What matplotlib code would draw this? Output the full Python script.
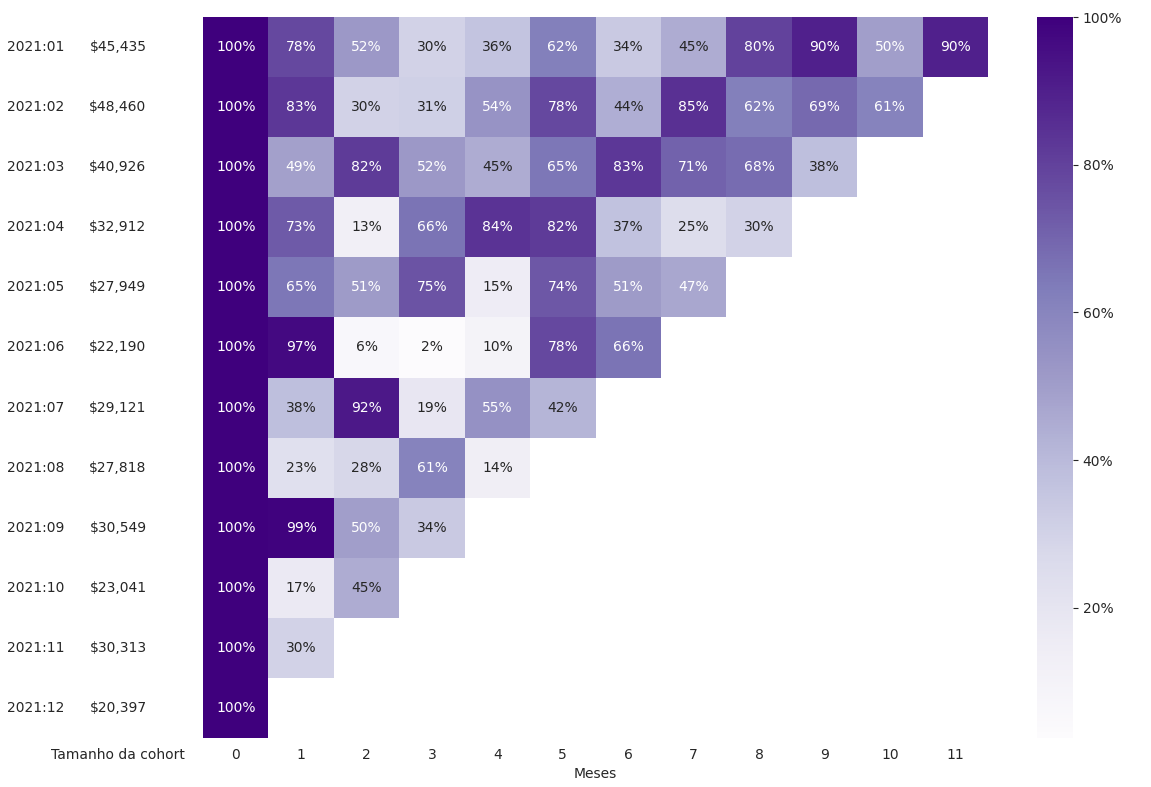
import matplotlib
matplotlib.use("Agg")
import matplotlib.pyplot as plt
import matplotlib.ticker as mtick
from matplotlib.colors import ListedColormap
import numpy as np
import pandas as pd
import seaborn as sns

cohorts = ["2021:01", "2021:02", "2021:03", "2021:04", "2021:05", "2021:06",
           "2021:07", "2021:08", "2021:09", "2021:10", "2021:11", "2021:12"]
cohort_size = [45435, 48460, 40926, 32912, 27949, 22190,
               29121, 27818, 30549, 23041, 30313, 20397]
months = list(range(12))
retention = [
    [100, 78, 52, 30, 36, 62, 34, 45, 80, 90, 50, 90],
    [100, 83, 30, 31, 54, 78, 44, 85, 62, 69, 61],
    [100, 49, 82, 52, 45, 65, 83, 71, 68, 38],
    [100, 73, 13, 66, 84, 82, 37, 25, 30],
    [100, 65, 51, 75, 15, 74, 51, 47],
    [100, 97, 6, 2.4, 10, 78, 66],
    [100, 38, 92, 19, 55, 42],
    [100, 23, 28, 61, 14],
    [100, 99, 50, 34],
    [100, 17, 45],
    [100, 30],
    [100],
]

sns.set_style("white")

mat = np.full((len(cohorts), len(months)), np.nan)
for i, row in enumerate(retention):
    mat[i, :len(row)] = np.array(row) / 100
ret_df = pd.DataFrame(mat, index=cohorts, columns=months)
size_df = pd.DataFrame({"Tamanho da cohort": cohort_size}, index=cohorts)
size_labels = np.array([[f"${v:,}"] for v in cohort_size])

W, H = 1151, 787
fig = plt.figure(figsize=(W / 100, H / 100), dpi=100)
ax0 = fig.add_axes([74 / W, 1 - 738 / H, 88 / W, 721 / H])
ax1 = fig.add_axes([203 / W, 1 - 738 / H, 785 / W, 721 / H])
cax = fig.add_axes([1037 / W, 1 - 738 / H, 36 / W, 721 / H])

sns.heatmap(size_df, annot=size_labels, fmt="", cmap=ListedColormap(["white"]),
            cbar=False, ax=ax0, annot_kws={"color": "#262626"})
ax0.set_ylabel("")
ax0.tick_params(axis="y", rotation=0)

sns.heatmap(ret_df, annot=True, fmt=".0%", cmap="Purples", ax=ax1, cbar_ax=cax)
ax1.set_yticks([])
ax1.set_ylabel("")
ax1.set_xlabel("Meses")
cax.yaxis.set_major_formatter(mtick.PercentFormatter(1.0, decimals=0))

fig.savefig("out.png", dpi=100)
